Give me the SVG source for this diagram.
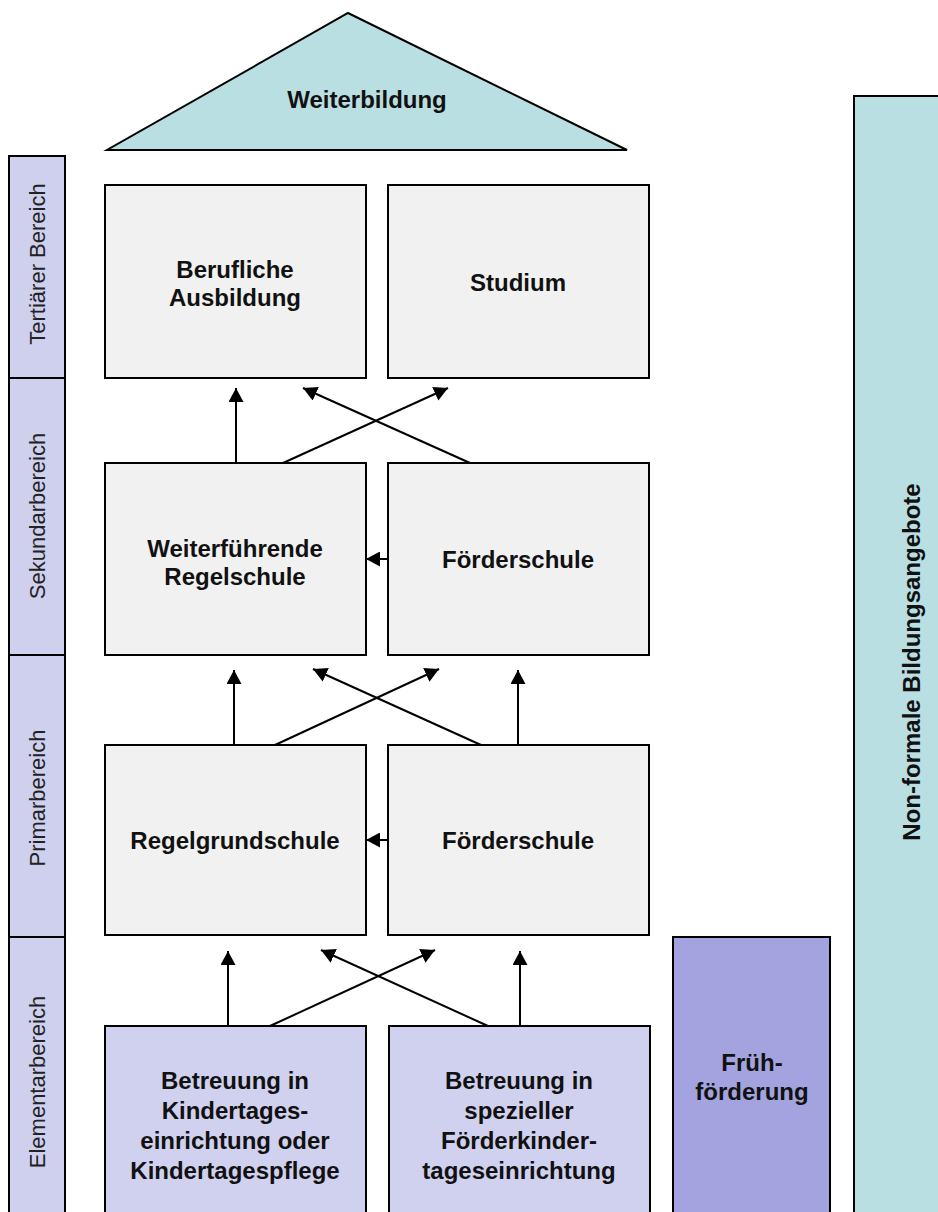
<svg xmlns="http://www.w3.org/2000/svg" width="938" height="1212" viewBox="0 0 938 1212">
<style>
.box{fill:#f1f1f1;stroke:#000;stroke-width:2}
.lav{fill:#d0d0ef;stroke:#000;stroke-width:2}
.dlav{fill:#a3a3df;stroke:#000;stroke-width:2}
.teal{fill:#b9dfe2;stroke:#000;stroke-width:2}
.band{fill:#cfcfee;stroke:#000;stroke-width:2}
.t{font-family:"Liberation Sans",Arial,sans-serif;font-weight:bold;font-size:24px;fill:#111;text-anchor:middle}
.lbl{font-family:"Liberation Sans",Arial,sans-serif;font-size:22px;fill:#222;text-anchor:middle}
.arr{stroke:#000;stroke-width:2;fill:none;marker-end:url(#ah)}
</style>
<defs>
<marker id="ah" markerWidth="15" markerHeight="15" refX="14" refY="7.5" orient="auto" markerUnits="userSpaceOnUse">
<path d="M0,0 L14,7.5 L0,15 Z" fill="#000"/>
</marker>
</defs>
<g id="band-tertiaer"><rect class="band" x="9" y="156" width="56" height="222"/><text class="lbl" transform="translate(45,264) rotate(-90)">Tertiärer Bereich</text></g>
<g id="band-sekundar"><rect class="band" x="9" y="378" width="56" height="277"/><text class="lbl" transform="translate(45,516) rotate(-90)">Sekundarbereich</text></g>
<g id="band-primar"><rect class="band" x="9" y="655" width="56" height="282"/><text class="lbl" transform="translate(45,798) rotate(-90)">Primarbereich</text></g>
<g id="band-elementar"><rect class="band" x="9" y="937" width="56" height="285"/><text class="lbl" transform="translate(45,1082) rotate(-90)">Elementarbereich</text></g>
<g id="weiterbildung"><polygon class="teal" points="348,13 627,150 107,150"/><text class="t" x="367" y="108">Weiterbildung</text></g>
<g id="berufliche-ausbildung"><rect class="box" x="105" y="185" width="261" height="193"/><text class="t" x="235" y="278">Berufliche</text><text class="t" x="235" y="306">Ausbildung</text></g>
<g id="studium"><rect class="box" x="388" y="185" width="261" height="193"/><text class="t" x="518" y="291">Studium</text></g>
<g id="weiterfuehrende-regelschule"><rect class="box" x="105" y="463" width="261" height="192"/><text class="t" x="235" y="557">Weiterführende</text><text class="t" x="235" y="585">Regelschule</text></g>
<g id="foerderschule-sek"><rect class="box" x="388" y="463" width="261" height="192"/><text class="t" x="518" y="568">Förderschule</text></g>
<g id="regelgrundschule"><rect class="box" x="105" y="745" width="261" height="190"/><text class="t" x="235" y="849">Regelgrundschule</text></g>
<g id="foerderschule-prim"><rect class="box" x="388" y="745" width="261" height="190"/><text class="t" x="518" y="849">Förderschule</text></g>
<g id="betreuung-kita"><rect class="lav" x="105" y="1026" width="261" height="196"/><text class="t" x="235" y="1089">Betreuung in</text><text class="t" x="235" y="1119">Kindertages-</text><text class="t" x="235" y="1149">einrichtung oder</text><text class="t" x="235" y="1179">Kindertagespflege</text></g>
<g id="betreuung-foerder"><rect class="lav" x="389" y="1026" width="261" height="196"/><text class="t" x="519" y="1089">Betreuung in</text><text class="t" x="519" y="1119">spezieller</text><text class="t" x="519" y="1149">Förderkinder-</text><text class="t" x="519" y="1179">tageseinrichtung</text></g>
<g id="fruehfoerderung"><rect class="dlav" x="673" y="937" width="157" height="285"/><text class="t" x="752" y="1071">Früh-</text><text class="t" x="752" y="1100">förderung</text></g>
<g id="non-formale"><rect class="teal" x="854" y="96" width="94" height="1130"/><text class="t" transform="translate(920,662) rotate(-90)">Non-formale Bildungsangebote</text></g>
<g id="connectors">
<line class="arr" x1="236" y1="463" x2="236" y2="388"/>
<line class="arr" x1="283" y1="463" x2="448" y2="388"/>
<line class="arr" x1="470" y1="463" x2="303" y2="388"/>
<line class="arr" x1="388" y1="559" x2="366" y2="559"/>
<line class="arr" x1="234" y1="745" x2="234" y2="670"/>
<line class="arr" x1="275" y1="745" x2="439" y2="669"/>
<line class="arr" x1="481" y1="745" x2="313" y2="669"/>
<line class="arr" x1="518" y1="745" x2="518" y2="670"/>
<line class="arr" x1="388" y1="840" x2="366" y2="840"/>
<line class="arr" x1="228" y1="1026" x2="228" y2="951"/>
<line class="arr" x1="270" y1="1026" x2="435" y2="950"/>
<line class="arr" x1="488" y1="1026" x2="321" y2="950"/>
<line class="arr" x1="520" y1="1026" x2="520" y2="951"/>
</g>
</svg>
